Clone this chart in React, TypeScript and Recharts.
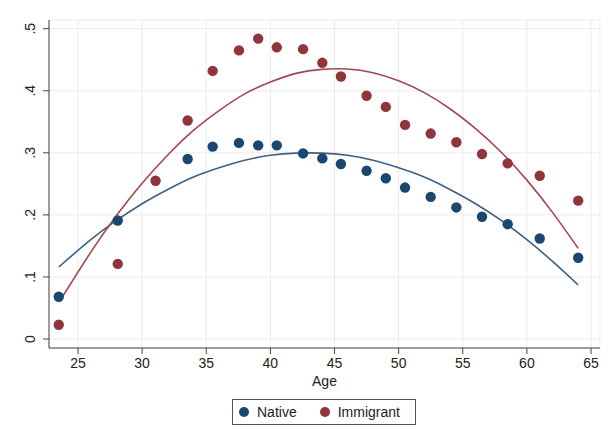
import React from 'react';
import {
  ComposedChart,
  Scatter,
  Line,
  XAxis,
  YAxis,
  CartesianGrid,
} from 'recharts';

// binned means by age
const ages = [23.5, 28.1, 31.05, 33.55, 35.5, 37.55, 39.05, 40.5, 42.55, 44.05, 45.5, 47.5, 49.0, 50.5, 52.5, 54.5, 56.5, 58.5, 61.0, 64.0];
const nativeVals = [0.068, 0.191, null, 0.29, 0.31, 0.316, 0.312, 0.312, 0.299, 0.291, 0.282, 0.271, 0.259, 0.244, 0.229, 0.212, 0.197, 0.185, 0.162, 0.131];
const immigrantVals = [0.023, 0.121, 0.255, 0.352, 0.432, 0.465, 0.484, 0.47, 0.467, 0.445, 0.423, 0.392, 0.374, 0.345, 0.331, 0.317, 0.298, 0.283, 0.263, 0.223];

// quadratic fit lines
const nativeFitAges = [23.5, 26, 28, 30, 32, 34, 36, 38, 40, 42, 44, 46, 48, 50, 52, 54, 56, 58, 60, 62, 64];
const nativeFitVals = [0.116, 0.16, 0.191, 0.218, 0.241, 0.261, 0.276, 0.288, 0.296, 0.2995, 0.2995, 0.296, 0.288, 0.276, 0.261, 0.241, 0.218, 0.191, 0.16, 0.125, 0.087];
const immigrantFitAges = [23.7, 26, 28, 30, 32, 34, 36, 38, 40, 42, 44, 46, 48, 50, 52, 54, 56, 58, 60, 62, 64];
const immigrantFitVals = [0.065, 0.14, 0.199, 0.251, 0.2965, 0.336, 0.368, 0.395, 0.414, 0.428, 0.4345, 0.435, 0.429, 0.416, 0.397, 0.371, 0.339, 0.301, 0.256, 0.204, 0.146];

const xTicks = [25, 30, 35, 40, 45, 50, 55, 60, 65];
const yTicks = [0, 0.1, 0.2, 0.3, 0.4, 0.5];

const NAVY = '#1a476f';
const MAROON = '#90353b';
const FONT = '"Liberation Sans", Arial, Helvetica, sans-serif';

const nativePts = ages
  .map((age, i) => ({ age, v: nativeVals[i] }))
  .filter((d) => d.v !== null);
const immigrantPts = ages.map((age, i) => ({ age, v: immigrantVals[i] }));
const nativeFit = nativeFitAges.map((age, i) => ({ age, v: nativeFitVals[i] }));
const immigrantFit = immigrantFitAges.map((age, i) => ({ age, v: immigrantFitVals[i] }));

const fmtY = (v: number) => (v === 0 ? '0' : String(v).replace(/^0/, ''));

function YTick(props: any) {
  const { y, payload } = props;
  const x = 30;
  return (
    <text
      x={x}
      y={y}
      transform={`rotate(-90, ${x}, ${y})`}
      textAnchor="middle"
      dominantBaseline="central"
      fontSize={14}
      fill="#222"
      fontFamily={FONT}
    >
      {fmtY(payload.value)}
    </text>
  );
}

const Dot = (color: string) => (props: any) => (
  <circle cx={props.cx} cy={props.cy} r={5.2} fill={color} />
);

export default function App() {
  return (
    <div style={{ position: 'absolute', left: 0, top: 0, width: 613, height: 443, background: '#fff', fontFamily: FONT }}>
      <ComposedChart
        width={613}
        height={443}
        margin={{ top: 20, right: 13, left: 0, bottom: 0 }}
      >
        <CartesianGrid stroke="#ebebeb" strokeWidth={1} />
        <XAxis
          type="number"
          dataKey="age"
          domain={[22.74, 65.7]}
          ticks={xTicks}
          interval={0}
          height={95}
          stroke="#444"
          tickSize={6}
          tickMargin={4}
          tick={{ fontSize: 14, fill: '#222', fontFamily: FONT }}
          allowDataOverflow
          label={{ value: 'Age', position: 'insideTop', offset: 28, fontSize: 14, fill: '#222', fontFamily: FONT }}
        />
        <YAxis
          type="number"
          dataKey="v"
          domain={[-0.0145, 0.514]}
          ticks={yTicks}
          interval={0}
          width={49}
          stroke="#444"
          tickSize={6}
          tick={<YTick />}
          allowDataOverflow
        />
        <Line
          data={nativeFit}
          dataKey="v"
          type="natural"
          stroke="#3c6186"
          strokeWidth={1.6}
          dot={false}
          activeDot={false}
          isAnimationActive={false}
        />
        <Line
          data={immigrantFit}
          dataKey="v"
          type="natural"
          stroke="#a3474f"
          strokeWidth={1.6}
          dot={false}
          activeDot={false}
          isAnimationActive={false}
        />
        <Scatter data={nativePts} dataKey="v" shape={Dot(NAVY)} isAnimationActive={false} />
        <Scatter data={immigrantPts} dataKey="v" shape={Dot(MAROON)} isAnimationActive={false} />
      </ComposedChart>
      <div
        style={{
          position: 'absolute',
          left: 232,
          top: 399,
          width: 184,
          height: 26,
          border: '1px solid #555',
          display: 'flex',
          alignItems: 'center',
          fontSize: 14,
          color: '#222',
          boxSizing: 'border-box',
        }}
      >
        <span style={{ display: 'inline-block', width: 10, height: 10, borderRadius: 5, background: NAVY, marginLeft: 6 }} />
        <span style={{ marginLeft: 8 }}>Native</span>
        <span style={{ display: 'inline-block', width: 10, height: 10, borderRadius: 5, background: MAROON, marginLeft: 23 }} />
        <span style={{ marginLeft: 8 }}>Immigrant</span>
      </div>
    </div>
  );
}
